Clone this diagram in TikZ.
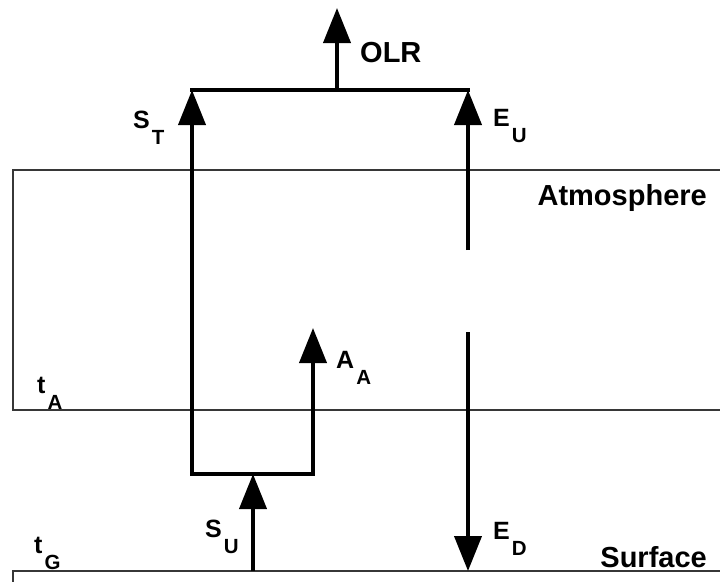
\documentclass[tikz,border=0pt]{standalone}
\usepackage{fontspec}
\setmainfont{Liberation Sans}
\usetikzlibrary{arrows.meta}
\definecolor{LayerGray}{RGB}{55,55,55}
\tikzset{
	flux/.style={draw=black,line width=4pt,-{Triangle[length=35pt,width=27pt]}},
	link/.style={draw=black,line width=4pt,line cap=rect},
	layer/.style={draw=LayerGray,line width=2pt},
	lab/.style={anchor=base west,inner sep=0pt,font=\bfseries\fontsize{25}{25}\selectfont},
	layername/.style={anchor=base east,inner sep=0pt,font=\bfseries\fontsize{29}{29}\selectfont},
}
\newcommand{\flx}[2]{#1\kern2pt\raisebox{-16pt}{\fontsize{20.5}{20.5}\selectfont #2}}

\begin{document}
\begin{tikzpicture}[x=1pt,y=-1pt]
	\useasboundingbox[fill=white] (0,0) rectangle (720,582);
	% layers
	\draw[layer] (720,170) -| (13,410) -- (720,410);
	\draw[layer] (720,571) -| (13,582);
	% end points of the fluxes
	\coordinate (stB) at (192,474);
	\coordinate (stT) at (192,90);
	\coordinate (euB) at (468,250);
	\coordinate (euT) at (468,90);
	\coordinate (olrB) at (337,90);
	\coordinate (olrT) at (337,8);
	\coordinate (aaB) at (313,474);
	\coordinate (aaT) at (313,328);
	\coordinate (suB) at (253,571);
	\coordinate (suT) at (253,474);
	\coordinate (edT) at (468,332);
	\coordinate (edB) at (468,571);
	\draw[link] (stT) -- (euT);
	\draw[link] (stB) -- (aaB);
	\foreach \u/\v in {stB/stT,euB/euT,olrB/olrT,aaB/aaT,suB/suT,edT/edB}
	\draw[flux] (\u) -- (\v);
	% labels
	\node[lab] (lST) at (133,128) {\flx{S}{T}};
	\node[lab] (lEU) at (493,126) {\flx{E}{U}};
	\node[lab] (lAA) at (336,368) {\flx{A}{A}};
	\node[lab] (lSU) at (205,537) {\flx{S}{U}};
	\node[lab] (lED) at (493,539) {\flx{E}{D}};
	\node[lab] (ltA) at (37,393) {\flx{t}{A}};
	\node[lab] (ltG) at (34,553) {\flx{t}{G}};
	\node[lab,font=\bfseries\fontsize{29}{29}\selectfont] (lOLR) at (360,62) {OLR};
	\node[layername] (lAtm) at (707,205) {Atmosphere};
	\node[layername] (lSurf) at (707,567) {Surface};
\end{tikzpicture}
\end{document}
